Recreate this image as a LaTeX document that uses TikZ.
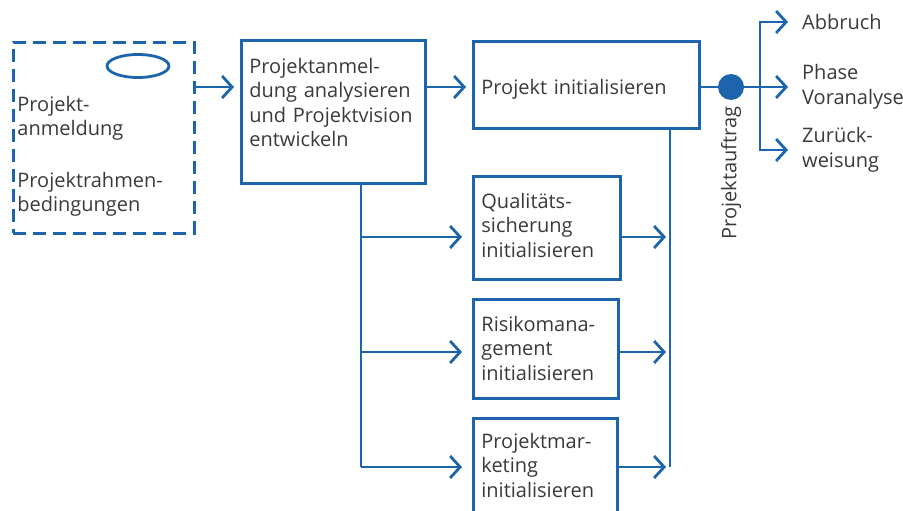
\documentclass[tikz,border=0pt]{standalone}
\usepackage{fontspec}
\setmainfont{Open Sans}
\usepackage{xcolor}
\usepackage{tikz}
\usetikzlibrary{arrows.meta,positioning,calc,shapes.geometric}
\definecolor{projblau}{RGB}{28,100,172}
\definecolor{schrift}{RGB}{58,58,58}

\begin{document}
\begin{tikzpicture}[
  x=1pt, y=-1pt,
  font=\fontsize{20}{24.5}\selectfont, text=schrift,
  box/.style={draw=projblau, line width=2.8pt, anchor=north west,
              align=left, inner sep=8pt},
  inbox/.style={box, dashed, dash pattern=on 13pt off 7pt, inner sep=4pt},
  outl/.style={anchor=west, align=left, inner sep=0pt},
  lin/.style={draw=projblau, line width=2.8pt},
  arr/.style={lin, -{Straight Barb[length=10pt,width=22pt]}, shorten >=6pt}
]
\clip (0,0) rectangle (903,511);

\node[inbox, text width=173pt, text height=65pt, text depth=118pt] (input) at (12,41)
  {Projekt-\\anmeldung\\[27pt]Projektrahmen-\\bedingungen};
\node[ellipse, draw=projblau, line width=2.8pt, minimum width=62pt,
      minimum height=23pt, inner sep=0pt] (formular) at (138,66) {};

\node[box, text width=168pt, text height=24.7pt, text depth=102.3pt] (analyse) at (240,39)
  {Projektanmel-\\dung analysieren\\und Projektvision\\entwickeln};
\node[box, text width=210pt, text height=45pt, text depth=26pt] (init) at (472,40)
  {Projekt initialisieren};
\node[box, text width=131pt, text height=23.7pt, text depth=63.3pt] (qs) at (472,175)
  {Qualitäts-\\sicherung\\initialisieren};
\node[box, text width=129pt, text height=23.7pt, text depth=59.3pt] (risiko) at (472,298)
  {Risikomana-\\gement\\initialisieren};
\node[box, text width=128pt, text height=21.7pt, text depth=80pt] (marketing) at (472,417)
  {Projektmar-\\keting\\initialisieren};

\node[circle, fill=projblau, minimum size=26pt, inner sep=0pt] (auftrag) at (731,87) {};
\node[rotate=90, anchor=east, inner sep=0pt] (auftragtext) at ([yshift=-6pt]auftrag.south)
  {Projektauftrag};
\node[outl] (abbruch) at (802,22) {Abbruch};
\node[outl] (voranalyse) at (802,87) {Phase\\Voranalyse};
\node[outl] (zurueck) at (802,150) {Zurück-\\weisung};

\coordinate (row) at (0,87);
\coordinate (qrow) at (0,237);
\coordinate (rrow) at (0,352);
\coordinate (prow) at (0,467);
\coordinate (lbus) at (361,467);
\coordinate (rbus) at (670,467);
\coordinate (gabel) at (760,87);

\draw[arr] (input.east |- row) -- (analyse.west |- row);
\draw[arr] (analyse.east |- row) -- (init.west |- row);
\draw[lin] (init.east |- row) -- (auftrag);
\draw[lin] (auftrag) -- (gabel);
\draw[arr, shorten >=14pt] (gabel) -- (voranalyse.west);
\draw[arr, shorten >=14pt] (gabel) |- (abbruch.west);
\draw[arr, shorten >=14pt] (gabel) |- (zurueck.west);

\draw[lin] (analyse.south -| lbus) -- (lbus);
\draw[arr, shorten >=10pt] (lbus |- qrow) -- (qs.west |- qrow);
\draw[arr, shorten >=10pt] (lbus |- rrow) -- (risiko.west |- rrow);
\draw[arr, shorten >=10pt] (lbus) -- (marketing.west |- prow);

\draw[lin] (init.south -| rbus) -- (rbus);
\draw[arr, shorten >=4pt] (qs.east |- qrow) -- (rbus |- qrow);
\draw[arr, shorten >=4pt] (risiko.east |- rrow) -- (rbus |- rrow);
\draw[arr, shorten >=4pt] (marketing.east |- prow) -- (rbus);
\end{tikzpicture}
\end{document}
